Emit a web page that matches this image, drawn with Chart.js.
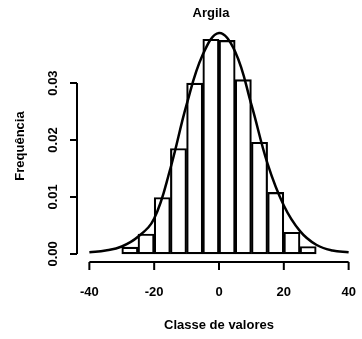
<!DOCTYPE html>
<html>
<head>
<meta charset="utf-8">
<script src="https://cdn.jsdelivr.net/npm/chart.js@4.4.1/dist/chart.umd.min.js"></script>
<style>
  html, body { margin: 0; padding: 0; background: #fff; }
  #wrap { width: 362px; height: 339px; }
</style>
</head>
<body>
<div id="wrap"><canvas id="chart-argila"></canvas></div>
<script>
// histogram classes (centres of 5-unit bins) and relative frequency
var bin_centres = [-27.5, -22.5, -17.5, -12.5, -7.5, -2.5, 2.5, 7.5, 12.5, 17.5, 22.5, 27.5];
var bin_freq = [0.0012, 0.0035, 0.0099, 0.0185, 0.0300, 0.0377, 0.0375, 0.0306, 0.0196, 0.0108, 0.0038, 0.0013];

// fitted density curve
var curve_x = [-40, -35, -30, -25, -20, -15, -10, -5, 0, 5, 10, 15, 20, 25, 30, 35, 40];
var curve_y = [0.0003, 0.0006, 0.0013, 0.0030, 0.0062, 0.0150, 0.0262, 0.0350, 0.0388, 0.0355, 0.0262, 0.0158, 0.0085, 0.0040, 0.0016, 0.0006, 0.0003];

var x_ticks = [-40, -20, 0, 20, 40];
var y_ticks = [0, 0.01, 0.02, 0.03];
var y_tick_labels = ["0.00", "0.01", "0.02", "0.03"];

var FONT = "bold 13px 'Liberation Sans', Arial, sans-serif";

var rAxes = {
  id: "rAxes",
  afterDraw: function (chart) {
    var c = chart.ctx;
    var xs = chart.scales.x;
    var ys = chart.scales.y;
    var area = chart.chartArea;
    c.save();
    c.strokeStyle = "#000";
    c.fillStyle = "#000";
    c.lineWidth = 2;
    c.font = FONT;

    // x axis
    var yAx = area.bottom - 1;
    c.beginPath();
    c.moveTo(xs.getPixelForValue(x_ticks[0]), yAx);
    c.lineTo(xs.getPixelForValue(x_ticks[x_ticks.length - 1]), yAx);
    x_ticks.forEach(function (t) {
      var px = xs.getPixelForValue(t);
      c.moveTo(px, yAx);
      c.lineTo(px, yAx + 8);
    });
    c.stroke();
    c.textAlign = "center";
    c.textBaseline = "middle";
    x_ticks.forEach(function (t) {
      c.fillText(String(t), xs.getPixelForValue(t), yAx + 30);
    });
    c.fillText("Classe de valores", (area.left + area.right) / 2, 325);

    // y axis
    var xAx = area.left - 2;
    c.beginPath();
    c.moveTo(xAx, ys.getPixelForValue(y_ticks[0]));
    c.lineTo(xAx, ys.getPixelForValue(y_ticks[y_ticks.length - 1]));
    y_ticks.forEach(function (t) {
      var py = ys.getPixelForValue(t);
      c.moveTo(xAx, py);
      c.lineTo(xAx - 7, py);
    });
    c.stroke();
    y_ticks.forEach(function (t, i) {
      c.save();
      c.translate(53, ys.getPixelForValue(t));
      c.rotate(-Math.PI / 2);
      c.fillText(y_tick_labels[i], 0, 0);
      c.restore();
    });
    c.save();
    c.translate(20, (area.top + area.bottom) / 2 + 6);
    c.rotate(-Math.PI / 2);
    c.fillText("Frequência", 0, 0);
    c.restore();

    // title
    c.fillText("Argila", 211, 13);
    c.restore();
  },
};

var ctx = document.getElementById("chart-argila").getContext("2d");

new Chart(ctx, {
  type: "bar",
  data: {
    datasets: [
      {
        type: "line",
        label: "Densidade",
        data: curve_x.map(function (x, i) { return { x: x, y: curve_y[i] }; }),
        borderColor: "#000",
        borderWidth: 2.5,
        pointRadius: 0,
        tension: 0.4,
        fill: false,
        order: 0,
      },
      {
        label: "Frequência",
        data: bin_centres.map(function (x, i) { return { x: x, y: bin_freq[i] }; }),
        backgroundColor: "rgba(255,255,255,0)",
        borderColor: "#000",
        borderWidth: 1.5,
        borderSkipped: false,
        barPercentage: 1,
        categoryPercentage: 1,
        grouped: false,
        order: 1,
      },
    ],
  },
  options: {
    responsive: true,
    maintainAspectRatio: false,
    animation: false,
    layout: {
      padding: { left: 79, right: 3, top: 17, bottom: 76 },
    },
    plugins: {
      legend: { display: false },
      tooltip: { enabled: false },
    },
    scales: {
      x: {
        type: "linear",
        min: -43.2,
        max: 43.2,
        offset: false,
        display: false,
        afterBuildTicks: function (scale) {
          scale.ticks = x_ticks.map(function (v) { return { value: v }; });
        },
      },
      y: {
        min: -0.0016,
        max: 0.0416,
        display: false,
      },
    },
  },
  plugins: [rAxes],
});
</script>
</body>
</html>
